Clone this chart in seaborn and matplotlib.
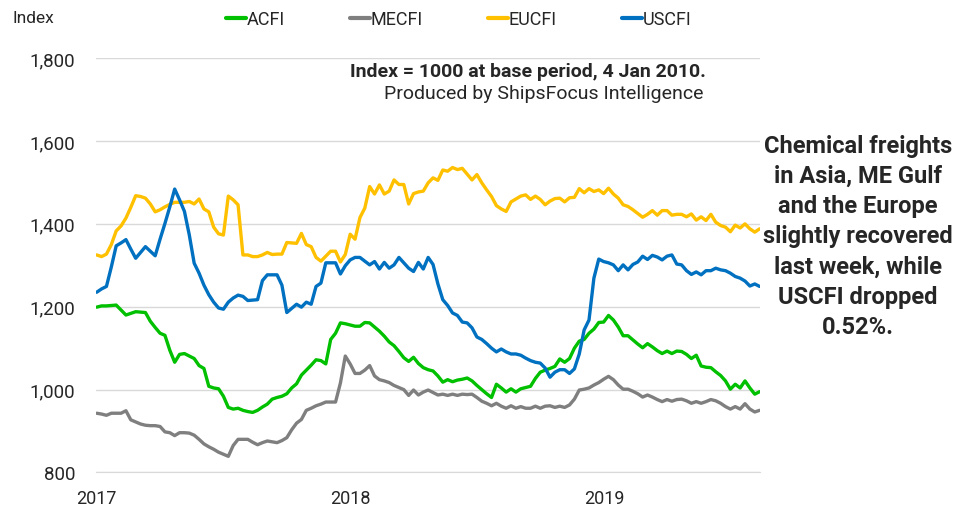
import pandas as pd
import matplotlib.pyplot as plt
import matplotlib.dates as mdates
from matplotlib.lines import Line2D
from matplotlib.ticker import FuncFormatter
import seaborn as sns

# weekly index values, Jan 2017 - Aug 2019
weeks = pd.date_range("2017-01-02", periods=137, freq="7D")

acfi = [1199, 1202, 1202, 1203, 1204, 1192, 1180, 1184, 1188, 1187, 1186, 1165, 1150, 1136, 1131, 1095,
        1066, 1085, 1087, 1081, 1075, 1058, 1051, 1008, 1004, 1002, 984, 957, 953, 955, 950, 947,
        945, 950, 958, 965, 977, 981, 984, 990, 1004, 1014, 1035, 1047, 1059, 1072, 1070, 1062,
        1121, 1136, 1161, 1159, 1156, 1153, 1153, 1162, 1161, 1151, 1141, 1129, 1115, 1106, 1092, 1077,
        1068, 1078, 1063, 1053, 1048, 1045, 1033, 1018, 1024, 1019, 1023, 1025, 1028, 1021, 1010, 1000,
        990, 981, 1013, 1004, 994, 1002, 994, 1002, 1005, 1008, 1027, 1042, 1047, 1051, 1056, 1074,
        1066, 1075, 1100, 1117, 1121, 1136, 1146, 1162, 1163, 1179, 1168, 1151, 1130, 1130, 1120, 1110,
        1101, 1111, 1103, 1094, 1087, 1093, 1087, 1093, 1092, 1085, 1075, 1083, 1057, 1054, 1053, 1043,
        1034, 1021, 1001, 1013, 1004, 1021, 1004, 989, 995]

mecfi = [943, 941, 938, 943, 943, 943, 949, 927, 922, 917, 914, 913, 913, 911, 898, 896,
         889, 896, 896, 895, 890, 880, 869, 862, 856, 849, 844, 839, 865, 880, 880, 880,
         873, 867, 872, 876, 874, 872, 877, 884, 903, 919, 928, 950, 955, 961, 965, 970,
         970, 970, 1016, 1081, 1062, 1039, 1039, 1047, 1058, 1033, 1024, 1021, 1017, 1010, 1005, 1000,
         986, 999, 987, 994, 999, 993, 987, 989, 986, 989, 986, 989, 988, 989, 981, 972,
         967, 961, 967, 960, 955, 961, 955, 959, 955, 955, 960, 955, 960, 961, 957, 960,
         957, 963, 977, 999, 1001, 1004, 1011, 1017, 1025, 1032, 1024, 1011, 1001, 1001, 996, 990,
         982, 987, 982, 976, 971, 976, 972, 976, 977, 973, 967, 971, 967, 971, 976, 973,
         967, 959, 953, 959, 953, 966, 953, 946, 950]

eucfi = [1325, 1321, 1327, 1350, 1383, 1395, 1414, 1440, 1468, 1466, 1462, 1448, 1429, 1434, 1441, 1447,
         1452, 1452, 1452, 1454, 1448, 1460, 1436, 1429, 1392, 1376, 1373, 1467, 1458, 1446, 1325, 1325,
         1321, 1321, 1325, 1331, 1326, 1327, 1327, 1355, 1354, 1353, 1377, 1350, 1345, 1319, 1310, 1322,
         1334, 1334, 1308, 1326, 1375, 1363, 1415, 1438, 1490, 1472, 1494, 1472, 1479, 1506, 1495, 1495,
         1448, 1473, 1477, 1479, 1499, 1511, 1505, 1530, 1527, 1536, 1531, 1534, 1520, 1506, 1519, 1499,
         1482, 1466, 1444, 1436, 1430, 1453, 1460, 1467, 1470, 1459, 1467, 1459, 1446, 1455, 1461, 1462,
         1453, 1463, 1464, 1485, 1475, 1485, 1478, 1482, 1473, 1486, 1472, 1462, 1446, 1442, 1434, 1425,
         1416, 1423, 1432, 1421, 1432, 1432, 1421, 1423, 1423, 1417, 1424, 1409, 1417, 1408, 1423, 1404,
         1396, 1392, 1381, 1397, 1390, 1400, 1388, 1380, 1388]

uscfi = [1235, 1243, 1249, 1296, 1347, 1354, 1362, 1339, 1317, 1331, 1345, 1334, 1323, 1363, 1401, 1441,
         1484, 1458, 1430, 1373, 1305, 1281, 1252, 1229, 1211, 1197, 1194, 1211, 1221, 1228, 1225, 1215,
         1216, 1217, 1263, 1277, 1277, 1277, 1252, 1186, 1196, 1206, 1199, 1211, 1206, 1249, 1257, 1306,
         1306, 1306, 1279, 1299, 1313, 1319, 1319, 1310, 1301, 1309, 1291, 1307, 1293, 1301, 1319, 1306,
         1293, 1285, 1307, 1291, 1319, 1302, 1255, 1217, 1203, 1185, 1179, 1163, 1161, 1149, 1127, 1121,
         1111, 1100, 1091, 1098, 1091, 1086, 1086, 1083, 1076, 1070, 1066, 1064, 1052, 1030, 1042, 1048,
         1048, 1039, 1050, 1086, 1144, 1168, 1269, 1315, 1309, 1306, 1301, 1287, 1301, 1289, 1302, 1308,
         1322, 1314, 1324, 1320, 1313, 1322, 1325, 1303, 1301, 1287, 1278, 1284, 1277, 1287, 1287, 1293,
         1289, 1287, 1281, 1273, 1269, 1262, 1250, 1255, 1249]

names = ["ACFI", "MECFI", "EUCFI", "USCFI"]
colors = ["#00c000", "#7f7f7f", "#ffc000", "#0070c0"]

df = pd.DataFrame({"date": weeks, "ACFI": acfi, "MECFI": mecfi, "EUCFI": eucfi, "USCFI": uscfi})
df = df.melt(id_vars="date", var_name="series", value_name="value")

sns.set_style("white")
plt.rcParams['font.family'] = ['Roboto', 'DejaVu Sans']

fig = plt.figure(figsize=(9.6, 5.1), dpi=100)
ax = fig.add_axes([0.1, 0.0716, 0.692, 0.8125])

sns.lineplot(data=df, x="date", y="value", hue="series", hue_order=names,
             palette=colors, linewidth=2.4, legend=False, ax=ax)

ax.set_ylim(800, 1800)
ax.set_yticks([800, 1000, 1200, 1400, 1600, 1800])
ax.yaxis.set_major_formatter(FuncFormatter(lambda v, p: f"{int(v):,}"))
ax.set_xlim(pd.Timestamp("2017-01-01"), weeks[-1] + pd.Timedelta(days=1))
ax.xaxis.set_major_locator(mdates.YearLocator())
ax.xaxis.set_major_formatter(mdates.DateFormatter("%Y"))
ax.xaxis.set_minor_locator(mdates.MonthLocator())
ax.set_xlabel("")
ax.set_ylabel("")

ax.grid(axis="y", color="#d9d9d9", linewidth=1)
for s in ["top", "right", "left"]:
    ax.spines[s].set_visible(False)
ax.spines["bottom"].set_color("#d9d9d9")
ax.tick_params(axis="x", which="major", length=8, color="#d9d9d9", labelsize=13, pad=4)
ax.tick_params(axis="x", which="minor", length=4, color="#d9d9d9")
ax.tick_params(axis="y", length=0, labelsize=13.5, pad=15)

fig.text(0.013, 0.963, "Index", fontsize=12.5, va="center", ha="left")

handles = [Line2D([0], [0], color=c, linewidth=3) for c in colors]
fig.legend(handles, names, loc="center left", bbox_to_anchor=(0.228, 0.96), ncol=4,
           frameon=False, fontsize=13, handlelength=1.1, handletextpad=0.05,
           columnspacing=3.6, borderaxespad=0)

fig.text(0.735, 0.858, "Index = 1000 at base period, 4 Jan 2010.", fontsize=14,
         fontweight="bold", ha="right", va="center")
fig.text(0.733, 0.816, "Produced by ShipsFocus Intelligence", fontsize=14,
         ha="right", va="center")

fig.text(0.894, 0.536, "Chemical freights\nin Asia, ME Gulf\nand the Europe\nslightly recovered\n"
         "last week, while\nUSCFI dropped\n0.52%.", fontsize=17, fontweight="bold",
         ha="center", va="center", linespacing=1.4)

fig.savefig("out.png", dpi=100)
